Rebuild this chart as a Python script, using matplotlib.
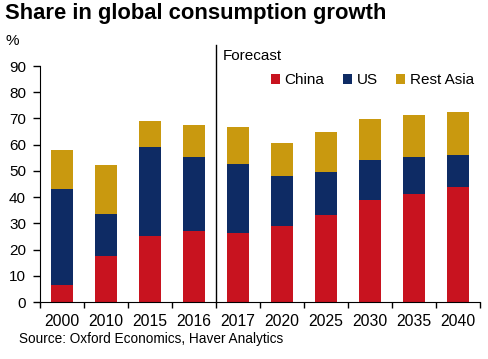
import matplotlib.pyplot as plt
import numpy as np

years = ['2000', '2010', '2015', '2016', '2017', '2020', '2025', '2030', '2035', '2040']
china = [6.5, 17.7, 25.1, 27.2, 26.4, 28.9, 33.3, 38.9, 41.1, 43.9]
us_top = [43.1, 33.7, 59.2, 55.3, 52.8, 48.1, 49.7, 54.1, 55.3, 56.1]
total = [57.9, 52.3, 69.1, 67.4, 66.9, 60.6, 64.9, 69.6, 71.4, 72.6]
us = [u - c for u, c in zip(us_top, china)]
rest_asia = [t - u for t, u in zip(total, us_top)]

def main():
    plt.rcParams['font.family'] = ['Liberation Sans', 'DejaVu Sans']
    fig = plt.figure(figsize=(4.88, 3.59), dpi=100)
    ax = fig.add_axes([40 / 488, 57 / 359, 440 / 488, 236 / 359])

    x = np.arange(len(years))
    w = 0.5
    ax.bar(x, china, w, color='#c8131f', label='China')
    ax.bar(x, us, w, bottom=china, color='#0e2b64', label='US')
    ax.bar(x, rest_asia, w, bottom=us_top, color='#c9990f', label='Rest Asia')

    ax.set_xlim(-0.5, len(years) - 0.5)
    ax.set_ylim(0, 90)
    ax.set_yticks(range(0, 91, 10))
    ax.set_xticks(x)
    ax.set_xticklabels(years)
    ax.set_xticks(np.arange(-0.5, len(years), 1), minor=True)
    ax.tick_params(axis='x', which='major', length=0, labelsize=11.3, pad=9)
    ax.tick_params(axis='x', which='minor', length=4, width=1)
    ax.tick_params(axis='y', length=5, width=1, labelsize=11, pad=5)
    for s in ['top', 'right']:
        ax.spines[s].set_visible(False)

    # forecast divider
    ax.plot([3.5, 3.5], [0, 98], color='black', lw=1, clip_on=False)
    ax.text(3.65, 94, 'Forecast', fontsize=11, va='center', ha='left')

    ax.legend(loc='upper right', bbox_to_anchor=(1.0, 0.995), ncol=3, frameon=False,
              fontsize=11, handlelength=0.6, handleheight=0.6, handletextpad=0.3,
              columnspacing=1.2, borderaxespad=0)

    fig.text(5 / 488, 1 - 14 / 359, 'Share in global consumption growth', fontsize=15.8,
             fontweight='bold', va='center', ha='left')
    fig.text(6 / 488, 1 - 41 / 359, '%', fontsize=11, va='center', ha='left')
    fig.text(19 / 488, 1 - 339 / 359, 'Source: Oxford Economics, Haver Analytics',
             fontsize=9.8, va='center', ha='left')

    fig.savefig('out.png', dpi=100)

if __name__ == '__main__':
    main()
